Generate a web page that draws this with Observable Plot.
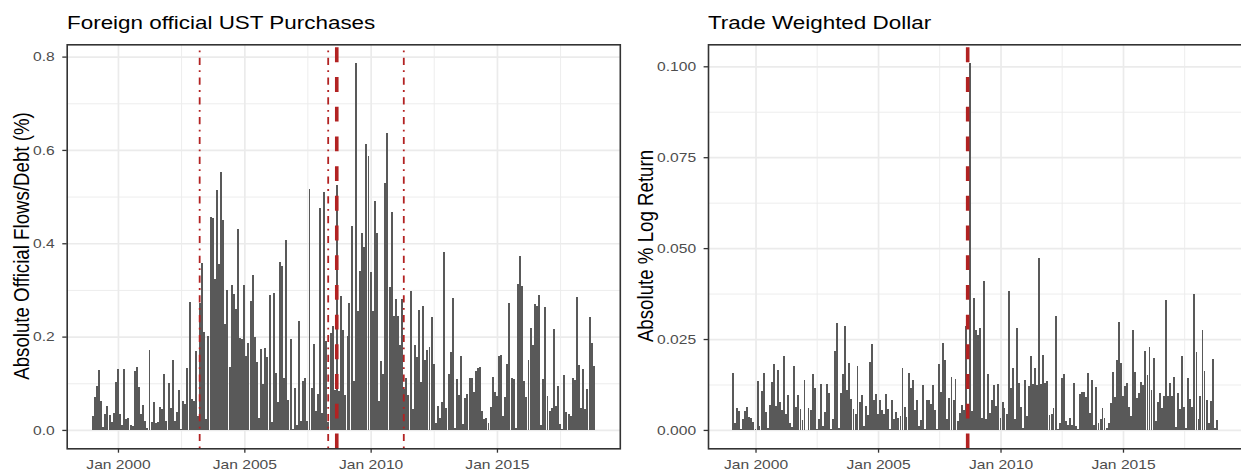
<!DOCTYPE html>
<html>
<head>
<meta charset="utf-8">
<script src="https://cdn.jsdelivr.net/npm/d3@7"></script>
<script src="https://cdn.jsdelivr.net/npm/@observablehq/plot@0.6"></script>
<style>
html, body { margin: 0; padding: 0; background: #fff; overflow: hidden; }
#root { position: relative; width: 1241px; height: 471px; overflow: hidden; background: #fff;
  font-family: "Liberation Sans", Arial, Helvetica, sans-serif; }
.panel { position: absolute; top: 0; }
.title { position: absolute; top: 14.2px; font-size: 18.7px; line-height: 1; color: #000; white-space: nowrap;
  transform: scaleX(1.2); transform-origin: 0 0; }
.ylab { position: absolute; font-size: 18.7px; line-height: 1; color: #000; white-space: nowrap;
  transform: translate(-50%, -50%) rotate(-90deg) scaleY(1.2); }
</style>
</head>
<body>
<div id="root"></div>
<script>
// ---------------- data ----------------
const ustTitle = "Foreign official UST Purchases";
const ustYLabel = "Absolute Official Flows/Debt (%)";
const ustStart = "1999-01-01"; // monthly observations
const ustValues = [
  0.029, 0.07, 0.094, 0.129, 0.063, 0.007, 0.034, 0.051, 0.031, 0.018,
  0.037, 0.103, 0.131, 0.034, 0.011, 0.131, 0.023, 0.026, 0.011, 0.009,
  0.127, 0.135, 0.092, 0.034, 0.054, 0.02, 0.005, 0.171, 0.018, 0.06,
  0.014, 0.017, 0.049, 0.044, 0.12, 0.019, 0.101, 0.048, 0.149, 0.019,
  0.039, 0.086, 0.003, 0.063, 0.056, 0.133, 0.275, 0.067, 0.061, 0.17,
  0.029, 0.272, 0.357, 0.21, 0.024, 0.201, 0.457, 0.455, 0.323,
  0.514, 0.356, 0.553, 0.45, 0.227, 0.3, 0.135, 0.311, 0.291, 0.259,
  0.431, 0.198, 0.195, 0.311, 0.159, 0.187, 0.276, 0.332, 0.199, 0.146,
  0.026, 0.174, 0.099, 0.176, 0.156, 0.289, 0.018, 0.294, 0.122, 0.06,
  0.36, 0.351, 0.111, 0.406, 0.065, 0.195, 0.003, 0.089, 0.011, 0.234,
  0.02, 0.104, 0.111, 0.02, 0.516, 0.09, 0.185, 0.041, 0.077, 0.476,
  0.036, 0.51, 0.191, 0.017, 0.207, 0.223, 0.086, 0.524, 0.084,
  0.288, 0.215, 0.075, 0.202, 0.272, 0.438, 0.105, 0.787, 0.255, 0.341,
  0.421, 0.391, 0.613, 0.588, 0.339, 0.255, 0.491, 0.421, 0.063, 0.148,
  0.12, 0.53, 0.637, 0.307, 0.468, 0.245, 0.281, 0.245, 0.183, 0.281,
  0.088, 0.111, 0.075, 0.298, 0.045, 0.182, 0.157, 0.258, 0.103, 0.266,
  0.15, 0.172, 0.177, 0.242, 0.142, 0.015, 0.052, 0.026, 0.06, 0.382,
  0.047, 0.12, 0.167, 0.283, 0.004, 0.109, 0.075, 0.159, 0.013, 0.069,
  0.077,
  0.112, 0.112, 0.082, 0.127, 0.133, 0.135, 0.041, 0.024, 0.026, 0.015,
  0.049, 0.114, 0.082, 0.073, 0.159, 0.161, 0.03, 0.071, 0.142, 0.273,
  0.112, 0.109, 0.004, 0.313, 0.373, 0.309, 0.105, 0.071, 0.15, 0.218,
  0.182, 0.27, 0.266, 0.29, 0.011, 0.109, 0.264, 0.073, 0.041, 0.047,
  0.217, 0.052, 0.094, 0.013, 0.002, 0.118, 0.039, 0.034, 0.03, 0.112,
  0.107, 0.285, 0.139, 0.047, 0.131, 0.045, 0.088, 0.242, 0.187, 0.137
];
const ustEventDates = ["2003-03-20", "2008-04-20", "2011-04-18"]; // dot-dash lines
const crisisDate = "2008-08-22";                                   // thick dashed line
const ustYTicks = [0, 0.2, 0.4, 0.6, 0.8];
const ustYMinor = [0.1, 0.3, 0.5, 0.7];

const twdTitle = "Trade Weighted Dollar";
const twdYLabel = "Absolute % Log Return";
const twdStart = "1999-02-01";
const twdValues = [
  0.0157, 0.002, 0.0061, 0.0052, 0.0003, 0.003, 0.0052, 0.0064, 0.0036, 0.0032,
  0.0022, 0.0003, 0.0135, 0.0011, 0.0108, 0.0157, 0.005, 0.0006, 0.0069, 0.0133,
  0.0182, 0.0066, 0.0166, 0.0077, 0.0055, 0.0202, 0.0044, 0.0097, 0.0019, 0.0008,
  0.0177, 0.0064, 0.0097, 0.0058, 0.0028, 0.0138, 0.0001, 0.0061, 0.0055, 0.0155,
  0.0116, 0.0003, 0.003, 0.0127, 0.0011, 0.005, 0.0126, 0.0101, 0.0003, 0.003,
  0.0216, 0.0293, 0.0004, 0.0102, 0.0155, 0.0285, 0.0111, 0.0185, 0.0086, 0.0058,
  0.0044, 0.0177, 0.0077, 0.0097, 0.0011, 0.0066, 0.0041, 0.0188, 0.0235, 0.0083,
  0.0099, 0.0044, 0.0083, 0.0055, 0.0044, 0.0099, 0.0058, 0.0003,
  0.0083, 0.003, 0.005, 0.0033, 0.0039, 0.0169, 0.0064, 0.0036, 0.0157, 0.0116,
  0.0138, 0.0055, 0.0083, 0.0011, 0.0028, 0.0124, 0.0002, 0.0083, 0.0083, 0.0072,
  0.0124, 0.0055, 0.0003, 0.0182, 0.0105, 0.0238, 0.0193, 0.003, 0.0088, 0.0146,
  0.0083, 0.0141, 0.0025, 0.0047, 0.0069, 0.0055, 0.0287,
  0.005, 0.101,
  0.0052, 0.0362, 0.0276, 0.026, 0.0279, 0.0033, 0.0409, 0.003, 0.0155, 0.0047,
  0.0083, 0.0124, 0.0066, 0.0127, 0.0033, 0.0077, 0.0061, 0.0044, 0.0381, 0.0116,
  0.0169, 0.003, 0.0279, 0.013, 0.0064, 0.0006, 0.0138, 0.0039, 0.0122, 0.0204,
  0.0127, 0.0169, 0.0124, 0.0472, 0.0127, 0.0207, 0.013, 0.0135, 0.0041, 0.0045,
  0.006, 0.0312,
  0.0003, 0.0019, 0.0144, 0.0155, 0.0025, 0.0014, 0.0033, 0.0014, 0.013, 0.0011,
  0.0003, 0.0099, 0.0105, 0.0105, 0.0091, 0.0157, 0.0047, 0.0138, 0.0014, 0.0119,
  0.0019, 0.003, 0.0061, 0.0033, 0.0006, 0.0019, 0.0075, 0.016, 0.0091, 0.0191,
  0.0296, 0.0185, 0.0094, 0.0122, 0.013, 0.0064, 0.0039, 0.0274, 0.016, 0.0088,
  0.0102, 0.0132, 0.0124, 0.0218, 0.015, 0.0227, 0.0111, 0.0199, 0.0025, 0.0077,
  0.0102, 0.0061, 0.0094, 0.0356, 0.0094, 0.013, 0.0094, 0.0146, 0.0008, 0.0102,
  0.0058, 0.0204, 0.0064, 0.0006, 0.0144, 0.0086, 0.0064, 0.0375, 0.0213, 0.003,
  0.0094, 0.0276, 0.0163, 0.0083, 0.0019, 0.008, 0.0196, 0.0006, 0.0028
];
const twdYTicks = [0, 0.025, 0.05, 0.075, 0.1];
const twdYMinor = [0.0125, 0.0375, 0.0625, 0.0875];

const xTickYears = [2000, 2005, 2010, 2015];
const xMinorYears = [2002, 2007, 2012, 2017]; // July of these years
const xTickLabels = ["Jan 2000", "Jan 2005", "Jan 2010", "Jan 2015"];

// ---------------- helpers ----------------
const DAY = 864e5;
const HALF = 12.6 * DAY;     // ggplot bar half width (0.9 * 28 days / 2), used for the scale range
const DRAW_HALF = 14.2 * DAY; // drawn half width (rendered bars look contiguous in the reference)
const FONT = '"Liberation Sans", Arial, Helvetica, sans-serif';
const STRETCH = 1.2;

function toSeries(start, values) {
  const s = new Date(start + "T00:00:00Z");
  return values.map((v, i) => ({date: d3.utcMonth.offset(s, i), v}));
}
function expand(lo, hi) { const r = hi - lo; return [lo - 0.05 * r, hi + 0.05 * r]; }

const xTicks = xTickYears.map(y => new Date(Date.UTC(y, 0, 1)));
const xMinor = xMinorYears.map(y => new Date(Date.UTC(y, 6, 1)));

function makePanel({data, yTicks, yMinor, yFormat, width, marginLeft, marginRight, dotdash, dashed}) {
  const xs = d3.extent(data, d => +d.date);
  const xd = expand(xs[0] - HALF, xs[1] + HALF).map(t => new Date(t));
  const ymax = d3.max(data, d => d.v);
  const yd = expand(0, ymax);
  const grid = "#EBEBEB";
  const marks = [
    Plot.gridY(yMinor, {stroke: grid, strokeOpacity: 1, strokeWidth: 0.9}),
    Plot.gridX(xMinor, {stroke: grid, strokeOpacity: 1, strokeWidth: 0.9}),
    Plot.gridY(yTicks, {stroke: grid, strokeOpacity: 1, strokeWidth: 1.7}),
    Plot.gridX(xTicks, {stroke: grid, strokeOpacity: 1, strokeWidth: 1.7}),
    Plot.rectY(data, {x1: d => new Date(+d.date - DRAW_HALF), x2: d => new Date(+d.date + DRAW_HALF),
      y: "v", fill: "#595959", shapeRendering: "crispEdges"})
  ];
  if (dotdash) marks.push(Plot.ruleX(dotdash.map(s => new Date(s + "T00:00:00Z")), {
    x: d => d, y1: () => yd[0], y2: () => yd[1],
    stroke: "#B22222", strokeWidth: 1.8, strokeDasharray: "1.8,5.4,7.2,5.4"}));
  if (dashed) marks.push(Plot.ruleX([new Date(dashed + "T00:00:00Z")], {
    x: d => d, y1: () => yd[0], y2: () => yd[1],
    stroke: "#B22222", strokeWidth: 3.6, strokeDasharray: "14.85,14.85"}));
  marks.push(
    Plot.frame({stroke: "#333333", strokeWidth: 1.6}),
    Plot.axisY(yTicks, {tickFormat: yFormat, tickSize: 4.4, tickPadding: 8,
      stroke: "#333333", strokeWidth: 1.3, fill: "#4D4D4D", label: null, fontSize: 13}),
    Plot.axisX(xTicks, {tickFormat: (d) => xTickLabels[xTickYears.indexOf(d.getUTCFullYear())],
      tickSize: 4.4, tickPadding: 7, stroke: "#333333", strokeWidth: 1.3, fill: "#4D4D4D", label: null, fontSize: 13})
  );
  return Plot.plot({
    width, height: 471,
    marginLeft, marginRight, marginTop: 44.3, marginBottom: 22.7,
    style: {fontFamily: FONT, fontSize: "13px", background: "transparent", overflow: "visible"},
    x: {type: "utc", domain: xd},
    y: {domain: yd},
    marks
  });
}

function stretchText(svg, k) {
  svg.querySelectorAll("text").forEach(t => {
    const L = t.getComputedTextLength();
    if (L > 0) {
      t.setAttribute("textLength", (L * k).toFixed(2));
      t.setAttribute("lengthAdjust", "spacingAndGlyphs");
    }
  });
}

// ---------------- build ----------------
const root = document.getElementById("root");

const left = makePanel({
  data: toSeries(ustStart, ustValues), yTicks: ustYTicks, yMinor: ustYMinor, yFormat: d3.format(".1f"),
  width: 640, marginLeft: 66.7, marginRight: 20.2, dotdash: ustEventDates, dashed: crisisDate
});
left.classList.add("panel"); left.style.left = "0px";
root.appendChild(left);

const right = makePanel({
  data: toSeries(twdStart, twdValues), yTicks: twdYTicks, yMinor: twdYMinor, yFormat: d3.format(".3f"),
  width: 603, marginLeft: 68, marginRight: 1, dotdash: null, dashed: crisisDate
});
right.classList.add("panel"); right.style.left = "640px";
root.appendChild(right);

stretchText(left, STRETCH);
stretchText(right, STRETCH);

function addDiv(cls, text, css) {
  const d = document.createElement("div");
  d.className = cls; d.textContent = text;
  Object.assign(d.style, css);
  root.appendChild(d);
}
addDiv("title", ustTitle, {left: "66.7px"});
addDiv("title", twdTitle, {left: "708px"});
addDiv("ylab", ustYLabel, {left: "21.8px", top: "246.3px"});
addDiv("ylab", twdYLabel, {left: "646px", top: "246.3px"});
</script>
</body>
</html>
